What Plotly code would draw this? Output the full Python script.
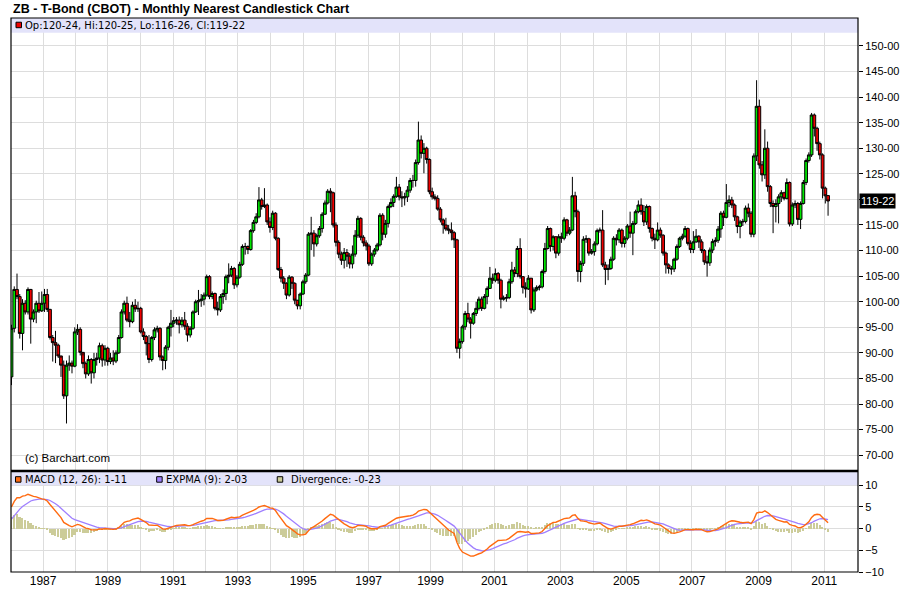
import plotly.graph_objects as go

# monthly nearest ZB bars, one per month from early 1986 to Feb 2011
closes = [
    94.8, 102.4, 101.0, 93.8, 99.7, 98.0, 102.4, 96.6, 98.0, 99.7, 98.2, 99.7,
    101.4, 98.5, 93.0, 92.0, 91.5, 89.4, 87.6, 81.6, 87.6, 88.0, 87.4, 94.1,
    94.6, 90.1, 87.9, 85.9, 88.7, 86.1, 88.7, 89.0, 91.4, 88.6, 90.9, 88.3,
    89.0, 88.4, 90.0, 93.0, 98.0, 99.7, 96.4, 96.1, 99.3, 98.6, 98.7, 94.1,
    93.2, 91.8, 88.7, 93.0, 94.5, 94.8, 89.2, 88.5, 91.1, 95.0, 95.8, 96.3,
    96.4, 95.5, 96.4, 95.2, 93.5, 94.8, 98.0, 100.0, 100.2, 100.5, 101.3, 104.9,
    101.0, 101.6, 98.7, 98.4, 101.0, 101.6, 104.9, 105.2, 106.5, 103.3, 104.8, 107.3,
    110.8, 110.8, 110.2, 113.9, 115.5, 116.6, 119.9, 118.6, 118.9, 115.6, 114.5, 117.3,
    112.4, 106.3, 104.6, 103.6, 101.3, 104.8, 103.6, 100.3, 99.2, 101.5, 103.9, 105.2,
    113.2, 113.4, 111.3, 112.9, 114.3, 117.1, 119.3, 121.6, 121.3, 115.0, 111.6, 109.3,
    108.1, 109.6, 108.9, 107.4, 109.3, 113.0, 116.3, 112.6, 111.5, 110.9, 107.4, 109.3,
    110.1, 111.1, 116.9, 113.2, 115.3, 118.6, 119.4, 120.6, 122.4, 120.5, 120.3, 120.5,
    121.8, 123.7, 123.7, 127.2, 131.6, 129.0, 130.0, 127.8, 121.5, 120.5, 120.2, 118.1,
    116.0, 115.0, 114.2, 114.0, 113.5, 112.1, 90.9, 92.2, 95.1, 97.7, 96.6, 95.8,
    97.7, 98.7, 100.5, 98.7, 101.0, 102.6, 104.6, 104.2, 105.5, 104.2, 100.5, 100.7,
    100.8, 103.9, 106.2, 105.5, 110.4, 104.9, 102.8, 102.5, 104.6, 98.4, 102.3, 102.8,
    102.9, 105.9, 110.4, 114.3, 110.8, 112.7, 109.5, 112.7, 112.4, 116.0, 113.4, 114.0,
    120.7, 117.6, 105.9, 107.5, 112.2, 112.3, 109.5, 109.8, 111.3, 113.9, 114.0, 107.2,
    106.3, 106.5, 108.3, 112.4, 112.1, 114.0, 111.4, 112.4, 114.8, 113.4, 115.3, 117.6,
    118.9, 117.6, 115.6, 118.6, 114.3, 112.4, 112.1, 114.0, 113.0, 109.5, 107.2, 106.5,
    106.4, 108.3, 110.8, 112.4, 112.8, 114.3, 111.4, 110.2, 111.7, 112.8, 111.7, 110.0,
    107.8, 107.6, 110.1, 111.75, 112.0, 114.2, 117.3, 116.5, 119.4, 119.9, 118.9, 116.6,
    114.7, 115.6, 115.7, 118.3, 117.3, 113.2, 128.5, 138.2, 126.75, 124.8, 130.0, 122.5,
    119.2, 118.6, 119.2, 120.5, 121.3, 120.2, 123.3, 115.2, 118.9, 119.2, 116.1, 119.2,
    123.3, 127.6, 128.7, 136.5, 133.9, 130.9, 128.7, 122.2, 120.7, 119.6875,
]
highs = [
    95.5, 103.0, 105.5, 101.5, 100.5, 100.3, 102.8, 102.5, 98.5, 100.2, 101.9, 102.0,
    102.5, 102.5, 98.6, 93.5, 94.3, 91.8, 89.0, 88.5, 88.5, 89.5, 88.5, 95.0,
    95.6, 95.0, 89.5, 88.3, 89.5, 89.0, 90.0, 90.0, 92.0, 91.8, 91.5, 91.2,
    90.0, 90.5, 90.5, 93.5, 98.5, 100.2, 101.0, 98.0, 100.0, 100.5, 100.0, 99.0,
    94.8, 93.5, 93.5, 93.3, 95.0, 95.3, 95.0, 89.5, 91.5, 95.3, 98.4, 97.0,
    97.0, 97.1, 97.0, 98.0, 95.8, 95.2, 98.3, 100.4, 102.3, 101.5, 101.8, 105.3,
    105.2, 102.0, 101.8, 100.0, 101.5, 102.4, 105.3, 107.5, 107.0, 106.8, 105.2, 107.8,
    111.2, 111.5, 111.0, 114.2, 116.0, 117.3, 122.4, 120.3, 122.2, 119.2, 116.5, 117.8,
    117.5, 112.6, 106.8, 105.0, 103.8, 105.2, 105.0, 103.8, 100.2, 101.8, 104.3, 105.6,
    113.6, 116.6, 114.0, 113.3, 114.8, 117.5, 119.8, 122.0, 122.2, 121.5, 115.5, 112.0,
    109.8, 110.5, 110.3, 109.5, 111.0, 114.0, 116.8, 116.5, 113.0, 112.0, 111.3, 109.6,
    110.5, 111.5, 117.3, 117.3, 116.0, 119.0, 120.2, 121.0, 124.4, 123.0, 121.6, 121.3,
    122.6, 124.2, 124.8, 127.8, 135.2, 132.5, 131.0, 130.3, 128.0, 122.3, 121.0, 120.8,
    118.5, 116.3, 116.4, 115.0, 115.5, 113.8, 112.3, 92.8, 95.5, 98.2, 99.8, 97.0,
    98.0, 100.0, 101.0, 101.0, 101.5, 103.0, 106.8, 105.5, 106.5, 105.8, 104.5, 101.2,
    101.5, 104.5, 107.8, 106.8, 110.9, 112.4, 104.9, 103.8, 105.2, 104.5, 102.8, 103.2,
    103.3, 106.3, 111.5, 114.8, 114.5, 113.0, 112.8, 113.2, 113.5, 116.5, 116.2, 114.6,
    124.4, 121.5, 118.0, 108.0, 112.8, 113.0, 112.5, 110.3, 111.8, 114.3, 114.5, 117.9,
    107.8, 107.3, 108.8, 112.8, 113.2, 114.4, 114.3, 112.8, 115.2, 117.6, 115.8, 118.0,
    119.8, 120.2, 118.9, 119.0, 118.8, 114.5, 113.3, 115.5, 114.5, 113.2, 109.8, 107.5,
    107.0, 108.6, 111.2, 112.7, 113.3, 114.8, 114.5, 112.0, 113.8, 114.2, 113.0, 112.2,
    110.3, 109.0, 110.6, 112.3, 112.6, 114.8, 117.7, 117.8, 123.0, 120.8, 120.5, 119.2,
    116.8, 116.0, 116.2, 118.8, 119.2, 117.7, 129.0, 143.3, 139.5, 127.5, 133.7, 131.3,
    122.8, 119.8, 120.0, 121.0, 121.8, 121.5, 124.1, 123.5, 119.4, 119.8, 119.5, 119.6,
    123.8, 128.0, 129.2, 136.9, 136.8, 134.2, 131.3, 129.0, 122.5, 120.78,
]
lows = [
    83.7, 94.0, 100.5, 92.8, 90.5, 97.5, 97.5, 91.8, 96.0, 95.8, 97.8, 98.0,
    98.0, 98.0, 92.6, 88.3, 88.0, 89.0, 85.3, 81.0, 76.2, 86.5, 86.0, 87.2,
    93.5, 89.5, 87.0, 85.0, 85.5, 84.0, 85.0, 87.5, 88.0, 87.3, 87.5, 87.5,
    87.8, 87.6, 88.0, 89.8, 92.8, 97.5, 96.0, 95.0, 95.8, 98.0, 98.0, 93.8,
    92.5, 89.5, 88.0, 88.3, 92.5, 94.0, 88.5, 86.6, 86.8, 90.5, 93.2, 95.0,
    95.5, 93.8, 95.0, 94.5, 92.2, 93.0, 94.5, 97.8, 97.4, 99.0, 99.3, 101.0,
    100.5, 100.5, 98.3, 97.3, 98.0, 99.6, 100.3, 103.6, 104.8, 102.5, 102.8, 104.5,
    107.0, 109.2, 109.3, 110.0, 113.5, 115.2, 116.3, 118.0, 118.3, 115.0, 113.5, 114.0,
    112.0, 106.0, 103.8, 102.5, 100.5, 101.0, 102.5, 99.5, 98.5, 98.5, 101.3, 103.5,
    105.0, 110.1, 108.8, 110.8, 112.5, 113.5, 117.0, 119.0, 117.5, 114.5, 110.8, 108.5,
    107.2, 106.5, 106.8, 106.5, 106.5, 108.8, 112.5, 112.0, 110.8, 110.0, 107.0, 107.0,
    108.8, 109.8, 110.8, 112.0, 112.5, 114.5, 118.3, 118.5, 120.3, 119.8, 118.5, 118.8,
    119.5, 121.3, 122.3, 122.5, 126.8, 128.0, 125.1, 127.0, 121.0, 120.0, 119.8, 117.8,
    115.5, 113.3, 113.8, 113.2, 112.0, 110.5, 90.0, 88.9, 91.8, 94.5, 96.0, 92.8,
    95.5, 97.2, 98.3, 98.2, 98.5, 99.5, 102.5, 103.5, 103.8, 103.5, 98.7, 100.2,
    100.0, 100.5, 103.5, 104.8, 104.8, 104.5, 101.6, 100.8, 102.3, 97.7, 98.0, 102.0,
    102.2, 102.6, 105.5, 110.2, 109.8, 110.0, 108.5, 109.0, 111.5, 112.0, 112.8, 113.0,
    113.8, 116.5, 103.9, 103.8, 107.0, 111.5, 109.0, 109.2, 109.0, 111.0, 113.5, 106.8,
    103.3, 104.2, 106.2, 108.0, 111.0, 111.5, 110.6, 110.6, 112.0, 112.5, 109.1, 115.0,
    117.3, 117.0, 114.8, 115.0, 113.5, 111.8, 110.3, 111.8, 112.5, 109.0, 105.5, 105.5,
    105.3, 105.8, 108.0, 110.5, 112.0, 112.5, 111.0, 109.5, 109.5, 111.5, 110.5, 109.5,
    107.2, 104.9, 107.0, 109.5, 110.8, 111.5, 112.5, 114.8, 116.3, 118.5, 118.3, 115.8,
    113.4, 112.4, 114.8, 115.3, 116.5, 112.6, 112.6, 127.5, 126.0, 123.5, 124.0, 121.5,
    118.5, 113.4, 115.5, 115.3, 119.5, 119.8, 120.0, 114.7, 114.8, 118.3, 115.0, 114.2,
    119.0, 122.8, 127.2, 128.3, 132.3, 129.5, 127.8, 120.2, 119.2, 116.81,
]
first_open = 85.3
last_open = 120.75

# EMA levels carried in from before the first bar (so the MACD starts where the chart does)
ema12_seed, ema26_seed, signal_seed = 79.0, 75.0, 1.5

# year ticks, as bar positions
year_labels = ["1987", "1989", "1991", "1993", "1995", "1997", "1999",
               "2001", "2003", "2005", "2007", "2009", "2011"]
year_pos = [11.5, 35.0, 58.8, 82.3, 106.1, 129.9, 152.4,
            175.6, 199.6, 223.6, 247.5, 271.7, 295.6]
price_ticks = list(range(70, 155, 5))
macd_ticks = [-10, -5, 0, 5, 10]

# legend readouts as printed on the chart
price_legend = "Op:120-24, Hi:120-25, Lo:116-26, Cl:119-22"
macd_legend = ["MACD (12, 26): 1-11", "EXPMA (9): 2-03", "Divergence: -0-23"]
last_label = "119-22"

opens = [first_open] + closes[:-2] + [last_open]
bars = list(range(len(closes)))

# MACD (12, 26), EXPMA (9), divergence
e12, e26, sig = ema12_seed, ema26_seed, signal_seed
macd, signal, diverg = [], [], []
for c in closes:
    e12 += 2 / 13 * (c - e12)
    e26 += 2 / 27 * (c - e26)
    m = e12 - e26
    sig += 2 / 10 * (m - sig)
    macd.append(m)
    signal.append(sig)
    diverg.append(m - sig)

# grid lines: every year (even years sit between the labelled odd ones)
grid_pos, grid_txt = [], []
for i, p in enumerate(year_pos):
    grid_pos.append(p)
    grid_txt.append(year_labels[i])
    if i + 1 < len(year_pos):
        grid_pos.append((p + year_pos[i + 1]) / 2)
        grid_txt.append("")

# plot-area edges in screen pixels
W, H = 900, 612
L, R, T, B = 10.5, 858.3, 18.3, 571.7
SPLIT = 470.7


def px(x):
    return (x - L) / (R - L)


def py(y):
    return (B - y) / (B - T)


fig = go.Figure()
fig.add_trace(go.Candlestick(
    x=bars, open=opens, high=highs, low=lows, close=closes,
    increasing=dict(fillcolor="#00e600", line=dict(color="black", width=1)),
    decreasing=dict(fillcolor="#ee0000", line=dict(color="black", width=1)),
    whiskerwidth=0, xaxis="x", yaxis="y", showlegend=False,
))
fig.add_trace(go.Bar(x=bars, y=diverg, marker=dict(color="#cccc99", line=dict(width=0)),
                     width=0.6, xaxis="x2", yaxis="y2", showlegend=False))
fig.add_trace(go.Scatter(x=bars, y=signal, mode="lines", line=dict(color="#9f7fff", width=1.3),
                         xaxis="x2", yaxis="y2", showlegend=False))
fig.add_trace(go.Scatter(x=bars, y=macd, mode="lines", line=dict(color="#ff6a10", width=1.4),
                         xaxis="x2", yaxis="y2", showlegend=False))

xr = [(L - 11) / 2.752, (R - 11) / 2.752]
gridc = "#dddddd"
axfont = dict(family="Liberation Sans, Arial", size=11, color="black")
common_x = dict(range=xr, tickvals=grid_pos, showgrid=True, gridcolor=gridc, gridwidth=1,
                zeroline=False, showline=False, fixedrange=True)
fig.update_layout(
    width=W, height=H,
    margin=dict(l=L, r=W - R, t=T, b=H - B, autoexpand=False),
    paper_bgcolor="white", plot_bgcolor="white",
    bargap=0, boxgap=0, boxgroupgap=0,
    xaxis=dict(common_x, domain=[0, 1], anchor="y", showticklabels=False,
               rangeslider=dict(visible=False)),
    yaxis=dict(domain=[py(SPLIT), 1], range=[66.93, 155.46], side="right",
               tickvals=price_ticks,
               ticktext=["" if v == 120 else "%d-00" % v for v in price_ticks],
               ticks="outside", ticklen=4, tickcolor="black", tickfont=axfont,
               showgrid=True, gridcolor=gridc, zeroline=False, showline=False),
    xaxis2=dict(common_x, domain=[0, 1], anchor="y2", ticktext=grid_txt,
                ticks="", tickfont=dict(family="Liberation Sans Narrow, Liberation Sans", size=12,
                                        color="black")),
    yaxis2=dict(domain=[0, py(SPLIT)], range=[-10, 13.3], side="right",
                tickvals=macd_ticks, ticks="outside", ticklen=4, tickcolor="black",
                tickfont=axfont, showgrid=True, gridcolor=gridc, zeroline=False, showline=False),
)

lav = "#e3e3fa"
shapes = [
    # legend bands
    dict(type="rect", xref="paper", yref="paper", x0=0, x1=1, y0=py(33), y1=1,
         fillcolor=lav, line=dict(width=0), layer="above"),
    dict(type="rect", xref="paper", yref="paper", x0=0, x1=1, y0=py(485), y1=py(SPLIT),
         fillcolor=lav, line=dict(width=0), layer="above"),
    # frame
    dict(type="rect", xref="paper", yref="paper", x0=0, x1=1, y0=0, y1=1,
         line=dict(color="black", width=1.2), layer="above"),
    dict(type="line", xref="paper", yref="paper", x0=0, x1=1, y0=py(SPLIT), y1=py(SPLIT),
         line=dict(color="black", width=2.5), layer="above"),
]
# legend squares
for (x0, y0, col) in [(15.5, 22.5, "#ee0000"), (15.0, 476.5, "#ff6a10"),
                      (156.3, 476.5, "#9f7fff"), (277.0, 476.5, "#cccc99")]:
    shapes.append(dict(type="rect", xref="paper", yref="paper",
                       x0=px(x0), x1=px(x0 + 5.5), y0=py(y0 + 5.5), y1=py(y0),
                       fillcolor=col, line=dict(color="black", width=1), layer="above"))
fig.update_layout(shapes=shapes)

legfont = dict(family="DejaVu Sans, Verdana", size=10, color="black")
ann = [
    dict(text="<b>ZB - T-Bond (CBOT) - Monthly Nearest Candlestick Chart</b>",
         x=px(10), y=py(9), xanchor="left", yanchor="middle",
         font=dict(family="Liberation Sans, Arial", size=12.5, color="black")),
    dict(text=price_legend, x=px(22.5), y=py(25.8), xanchor="left", yanchor="middle", font=legfont),
    dict(text=macd_legend[0], x=px(22.5), y=py(479.5), xanchor="left", yanchor="middle", font=legfont),
    dict(text=macd_legend[1], x=px(163.3), y=py(479.5), xanchor="left", yanchor="middle", font=legfont),
    dict(text=macd_legend[2], x=px(288.7), y=py(479.5), xanchor="left", yanchor="middle", font=legfont),
    dict(text="(c) Barchart.com", x=px(22.5), y=py(457.5), xanchor="left", yanchor="middle",
         font=dict(family="Liberation Sans Narrow, Liberation Sans", size=11.5, color="black")),
    dict(text=last_label, xref="paper", yref="y", x=1, y=closes[-1],
         xanchor="left", yanchor="middle", xshift=1, bgcolor="black",
         font=dict(family="Liberation Sans, Arial", size=11, color="white"), borderpad=1),
]
for a in ann:
    a.setdefault("xref", "paper")
    a.setdefault("yref", "paper")
    a["showarrow"] = False
fig.update_layout(annotations=ann)

# the page's default body margin would push the 900x612 figure off the window
fig.write_html("out.html", config={"displayModeBar": False},
               post_script="document.body.style.margin = '0';")
